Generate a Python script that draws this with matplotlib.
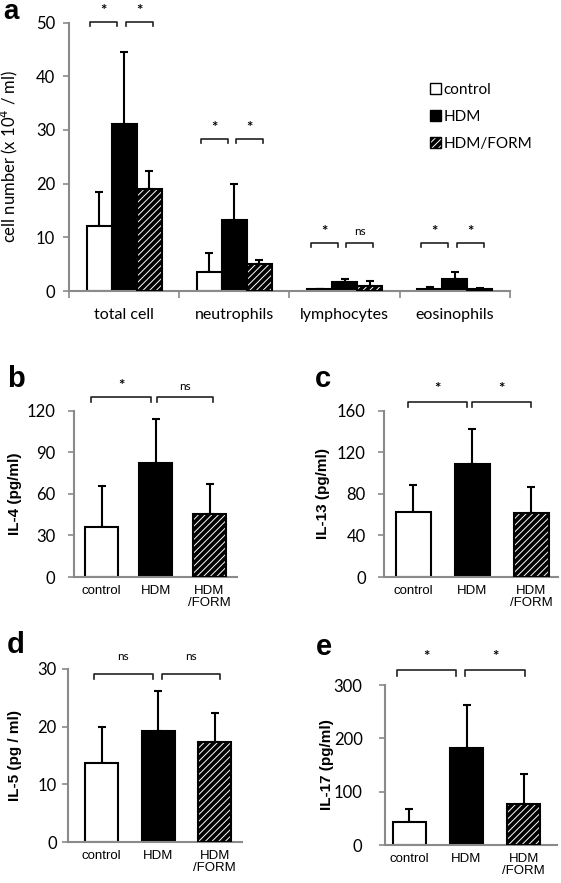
import numpy as np
import matplotlib.pyplot as plt
from matplotlib.patches import Patch

plt.rcParams['font.family'] = ['Lato', 'DejaVu Sans']
plt.rcParams['hatch.linewidth'] = 0.7

# panel a: BAL cells
cells = ['total cell', 'neutrophils', 'lymphocytes', 'eosinophils']
groups = ['control', 'HDM', 'HDM/FORM']
ctrl_mean = [12.1, 3.6, 0.3, 0.4]
ctrl_sd = [6.3, 3.4, 0.1, 0.4]
hdm_mean = [31.2, 13.2, 1.7, 2.3]
hdm_sd = [13.4, 6.8, 0.6, 1.3]
form_mean = [19.0, 5.0, 1.0, 0.3]
form_sd = [3.3, 0.8, 0.8, 0.2]
sig_a = [['*', '*'], ['*', '*'], ['*', 'ns'], ['*', '*']]
sig_a_y = [50.2, 28.4, 9.0, 9.0]

# panels b-e: cytokines
xlab = ['control', 'HDM', 'HDM\n/FORM']
il4 = [36, 82, 45.5]
il4_sd = [30, 32, 21.5]
il13 = [63, 109, 61.5]
il13_sd = [26, 33, 25.5]
il5 = [13.7, 19.2, 17.3]
il5_sd = [6.2, 7.0, 5.1]
il17 = [44, 182, 77]
il17_sd = [23, 80, 56]

GRAY = '#8a8a8a'
HATCH = '/////'


def hatched_bar(ax, x, h, w):
    ax.bar(x, h, w, color='black', edgecolor='white', hatch=HATCH, linewidth=0, zorder=2)
    ax.bar(x, h, w, color='none', edgecolor='black', linewidth=1.5, zorder=3)


def style_axis(ax, size, pad):
    for s in ['top', 'right']:
        ax.spines[s].set_visible(False)
    for s in ['left', 'bottom']:
        ax.spines[s].set_color(GRAY)
        ax.spines[s].set_linewidth(1.5)
    ax.tick_params(axis='y', colors=GRAY, length=4, width=1.2, labelsize=size,
                   labelcolor='black', pad=pad)


def bracket(ax, x1, x2, y, drop, label, ty, fs):
    ax.plot([x1, x1, x2, x2], [y - drop, y, y, y - drop], color='#222222', lw=1.2,
            clip_on=False, zorder=4)
    ax.text((x1 + x2) / 2, ty, label, ha='center', va='center', fontsize=fs,
            fontweight='bold' if label == '*' else 'normal', clip_on=False)


fig = plt.figure(figsize=(5.61, 8.83), dpi=100)

# ---------------- panel a ----------------
ax = fig.add_axes([0.123, 0.6704, 0.786, 0.304])
x = np.arange(len(cells))
w = 0.227
ax.bar(x - w, ctrl_mean, w, color='white', edgecolor='black', linewidth=1.5, zorder=2)
ax.bar(x, hdm_mean, w, color='black', edgecolor='black', linewidth=1.5, zorder=2)
hatched_bar(ax, x + w, form_mean, w)
ebk = dict(fmt='none', ecolor='black', elinewidth=1.5, capsize=3, capthick=1.5, zorder=1)
ax.errorbar(x - w, ctrl_mean, yerr=[np.zeros(4), ctrl_sd], **ebk)
ax.errorbar(x, hdm_mean, yerr=[np.zeros(4), hdm_sd], **ebk)
ax.errorbar(x + w, form_mean, yerr=[np.zeros(4), form_sd], **ebk)
ax.set_xlim(-0.5, 3.5)
ax.set_ylim(0, 50)
ax.set_yticks(np.arange(0, 51, 10))
style_axis(ax, 12, 6)
ax.set_xticks(x)
ax.set_xticklabels(cells, fontsize=11.5)
ax.tick_params(axis='x', length=0, pad=12)
ax.set_xticks(np.arange(-0.5, 3.6, 1), minor=True)
ax.tick_params(axis='x', which='minor', length=5, width=1.2, colors=GRAY)
ax.set_ylabel('cell number (x 10$^4$ / ml)', fontsize=12)
ax.yaxis.set_label_coords(-0.11, 0.5)
for i in range(len(cells)):
    y = sig_a_y[i]
    d = 0.8
    bracket(ax, i - 1.35 * w, i - 0.27 * w, y, d, sig_a[i][0], y + 2.0,
            11 if sig_a[i][0] == '*' else 8.5)
    bracket(ax, i + 0.07 * w, i + 1.15 * w, y, d, sig_a[i][1], y + 2.0,
            11 if sig_a[i][1] == '*' else 8.5)

h_ctrl = Patch(facecolor='white', edgecolor='black', linewidth=1)
h_hdm = Patch(facecolor='black', edgecolor='black', linewidth=1)
h_form = (Patch(facecolor='black', edgecolor='white', hatch=HATCH, linewidth=0),
          Patch(facecolor='none', edgecolor='black', linewidth=1))
fig.legend([h_ctrl, h_hdm, h_form], groups, loc='upper left',
           bbox_to_anchor=(430 / 561, 1 - 83 / 883), frameon=False, fontsize=11,
           handlelength=0.7, handleheight=0.7, handletextpad=0.2,
           labelspacing=0.85, borderpad=0, borderaxespad=0)
fig.text(3 / 561, 1 - 19 / 883, 'a', fontsize=20, fontweight='bold',
         family='Liberation Sans', va='baseline')

# ---------------- panels b-e ----------------
panels = [
    ('b', [0.132, 0.3465, 0.2906, 0.1884], il4, il4_sd, (-0.51, 2.51), 0.6,
     (0, 120), np.arange(0, 121, 30), 'IL-4 (pg/ml)', 9.5, -0.319,
     [(-0.19, 0.92, '*'), (1.03, 2.06, 'ns')], 130, 3.5, 137.5, (7, 387)),
    ('c', [0.6845, 0.3465, 0.310, 0.1884], il13, il13_sd, (-0.5, 2.45), 0.59,
     (0, 160), np.arange(0, 161, 40), 'IL-13 (pg/ml)', 9, -0.31,
     [(-0.09, 0.91, '*'), (0.99, 1.99, '*')], 168.6, 4.8, 181, (315, 387)),
    ('d', [0.121, 0.0464, 0.310, 0.196], il5, il5_sd, (-0.6, 2.48), 0.59,
     (0, 30), np.arange(0, 31, 10), 'IL-5 (pg / ml)', 4, -0.264,
     [(-0.14, 0.90, 'ns'), (1.06, 2.1, 'ns')], 29.1, 0.9, 32.2, (7, 653)),
    ('e', [0.686, 0.0430, 0.3066, 0.1812], il17, il17_sd, (-0.43, 2.58), 0.58,
     (0, 300), np.arange(0, 301, 100), 'IL-17 (pg/ml)', 12, -0.297,
     [(-0.22, 0.82, '*'), (0.97, 2.03, '*')], 328, 10.5, 353, (316, 655)),
]

for (lab, rect, mean, sd, xl, bw, yl, yt, ylab, tpad, lx, brs, by, bd, ty, lpos) in panels:
    ax = fig.add_axes(rect)
    xs = np.arange(3)
    ax.bar(xs[0], mean[0], bw, color='white', edgecolor='black', linewidth=1.5, zorder=2)
    ax.bar(xs[1], mean[1], bw, color='black', edgecolor='black', linewidth=1.5, zorder=2)
    hatched_bar(ax, xs[2], mean[2], bw)
    ax.errorbar(xs, mean, yerr=[np.zeros(3), sd], fmt='none', ecolor='black',
                elinewidth=1.5, capsize=3, capthick=1.5, zorder=1)
    ax.set_xlim(*xl)
    ax.set_ylim(*yl)
    ax.set_yticks(yt)
    style_axis(ax, 12, tpad)
    ax.set_xticks(xs)
    ax.set_xticklabels(xlab, fontsize=9.5, family='Liberation Sans', linespacing=1.0)
    ax.tick_params(axis='x', length=0, pad=6)
    ax.set_ylabel(ylab, fontsize=11, fontweight='bold', family='Liberation Sans')
    ax.yaxis.set_label_coords(lx, 0.5)
    for (x1, x2, s) in brs:
        bracket(ax, x1, x2, by, bd, s, ty, 11 if s == '*' else 8.5)
    fig.text(lpos[0] / 561, 1 - lpos[1] / 883, lab, fontsize=21, fontweight='bold',
             family='Liberation Sans', va='baseline')

fig.savefig('out.png', dpi=100)
